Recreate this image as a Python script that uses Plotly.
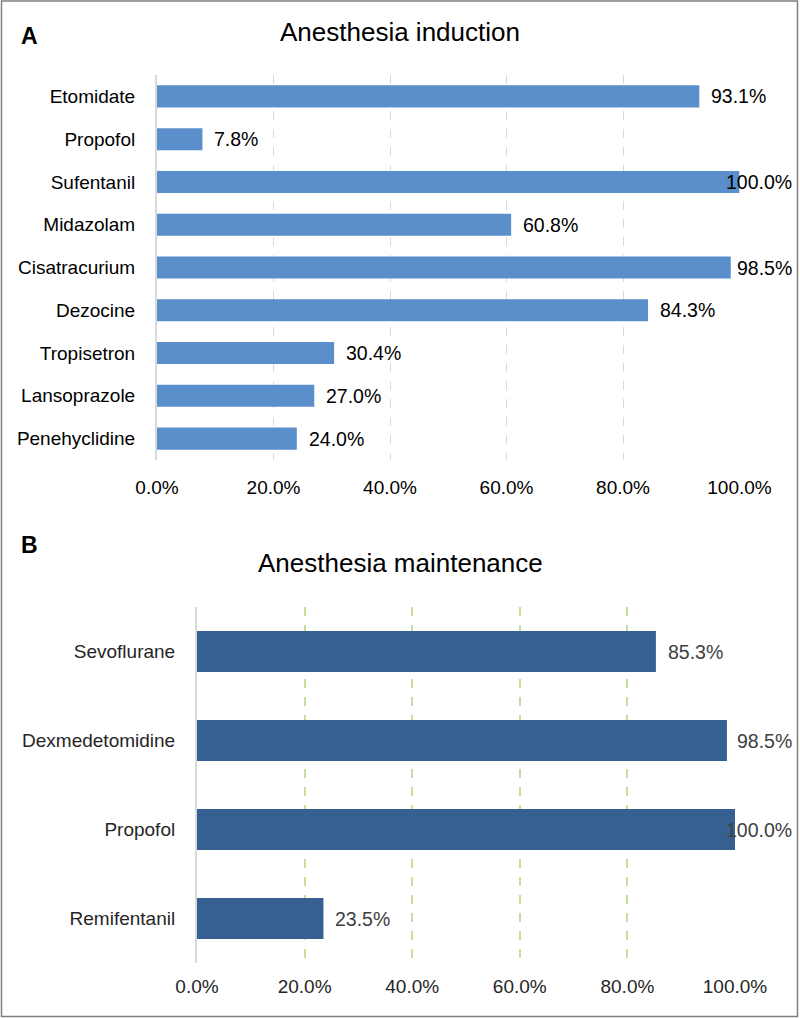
import plotly.graph_objects as go

# ---------------- data ----------------
induction_drugs = ["Etomidate", "Propofol", "Sufentanil", "Midazolam", "Cisatracurium",
                   "Dezocine", "Tropisetron", "Lansoprazole", "Penehyclidine"]
induction_pct = [93.1, 7.8, 100.0, 60.8, 98.5, 84.3, 30.4, 27.0, 24.0]

maintenance_drugs = ["Sevoflurane", "Dexmedetomidine", "Propofol", "Remifentanil"]
maintenance_pct = [85.3, 98.5, 100.0, 23.5]

x_ticks = [0, 20, 40, 60, 80, 100]
x_tick_labels = ["0.0%", "20.0%", "40.0%", "60.0%", "80.0%", "100.0%"]

panel_titles = ["Anesthesia induction", "Anesthesia maintenance"]
panel_letters = ["A", "B"]

# ---------------- layout constants ----------------
W, H = 800, 1018
FONT = "Liberation Sans, Arial, sans-serif"
A_X = (157, 739.5)
A_Y = (75, 460)
B_X = (197, 735)
B_Y = (607, 963)
COL_A = "#5B8FCB"
COL_B = "#376092"
LBL_FS = 19.5
LABEL_LIMIT = 790


def px_x(p):
    return p / W


def px_y(p):
    return 1 - p / H


CHAR_W = {"0": 556, "1": 556, "2": 556, "3": 556, "4": 556, "5": 556, "6": 556,
          "7": 556, "8": 556, "9": 556, ".": 278, "%": 889}


def label_width(s, fs):
    return sum(CHAR_W.get(c, 556) for c in s) * fs / 1000.0


fig = go.Figure()

fig.add_trace(go.Bar(
    x=induction_pct, y=induction_drugs, orientation="h",
    xaxis="x", yaxis="y", width=0.515,
    marker=dict(color=COL_A, line=dict(width=0)),
    hoverinfo="x+y", showlegend=False,
))
fig.add_trace(go.Bar(
    x=maintenance_pct, y=maintenance_drugs, orientation="h",
    xaxis="x2", yaxis="y2", width=0.46,
    marker=dict(color=COL_B, line=dict(width=0)),
    hoverinfo="x+y", showlegend=False,
))

annotations = []


def add_labels(vals, cats, xr, yr, xpix, color):
    for v, c in zip(vals, cats):
        txt = f"{v:.1f}%"
        bar_end = xpix[0] + v / 100.0 * (xpix[1] - xpix[0])
        w = label_width(txt, LBL_FS)
        shift = min(10, LABEL_LIMIT - bar_end - w)
        annotations.append(dict(
            x=v, y=c, xref=xr, yref=yr, text=txt, showarrow=False,
            xanchor="left", yanchor="middle", xshift=shift,
            font=dict(family=FONT, size=LBL_FS, color=color),
        ))


add_labels(induction_pct, induction_drugs, "x", "y", A_X, "#000000")
add_labels(maintenance_pct, maintenance_drugs, "x2", "y2", B_X, "#404040")

# titles and letters
annotations += [
    dict(x=0.5, y=px_y(32), xref="paper", yref="paper", text=panel_titles[0],
         showarrow=False, xanchor="center", yanchor="middle",
         font=dict(family=FONT, size=26, color="#000000")),
    dict(x=0.5, y=px_y(563), xref="paper", yref="paper", text=panel_titles[1],
         showarrow=False, xanchor="center", yanchor="middle",
         font=dict(family=FONT, size=26, color="#000000")),
    dict(x=px_x(19), y=px_y(36), xref="paper", yref="paper",
         text=f"<b>{panel_letters[0]}</b>", showarrow=False,
         xanchor="left", yanchor="middle",
         font=dict(family=FONT, size=23, color="#000000")),
    dict(x=px_x(19), y=px_y(545), xref="paper", yref="paper",
         text=f"<b>{panel_letters[1]}</b>", showarrow=False,
         xanchor="left", yanchor="middle",
         font=dict(family=FONT, size=23, color="#000000")),
]

fig.update_layout(
    template="none",
    width=W, height=H,
    margin=dict(l=0, r=0, t=0, b=0, pad=0, autoexpand=False),
    paper_bgcolor="white", plot_bgcolor="white",
    font=dict(family=FONT, size=19, color="#000000"),
    showlegend=False,
    annotations=annotations,
    shapes=[dict(type="rect", xref="paper", yref="paper",
                 x0=px_x(1.5), x1=px_x(797.5), y0=px_y(1016.5), y1=px_y(1),
                 line=dict(color="#7F7F7F", width=1.5), fillcolor="rgba(0,0,0,0)",
                 layer="above")],
    xaxis=dict(
        domain=[px_x(A_X[0]), px_x(A_X[1])], anchor="y", automargin=False,
        range=[0, 100], tickvals=x_ticks, ticktext=x_tick_labels,
        showgrid=True, gridcolor="#D9D9D9", griddash="dash", gridwidth=1.2,
        zeroline=False, showline=False, ticks="",
        tickfont=dict(family=FONT, size=19, color="#000000"),
        ticklabelstandoff=14, fixedrange=True,
    ),
    yaxis=dict(
        domain=[px_y(A_Y[1]), px_y(A_Y[0])], anchor="x", automargin=False,
        type="category", categoryorder="array", categoryarray=induction_drugs,
        range=[len(induction_drugs) - 0.5, -0.5],
        showgrid=False, zeroline=False,
        showline=True, linecolor="#D9D9D9", linewidth=2, ticks="",
        tickfont=dict(family=FONT, size=19, color="#000000"),
        ticklabelstandoff=16, fixedrange=True,
    ),
    xaxis2=dict(
        domain=[px_x(B_X[0]), px_x(B_X[1])], anchor="y2", automargin=False,
        range=[0, 100], tickvals=x_ticks, ticktext=x_tick_labels,
        showgrid=True, gridcolor="#C5DF9C", griddash="dash", gridwidth=1.5,
        zeroline=False, showline=False, ticks="",
        tickfont=dict(family=FONT, size=19, color="#262626"),
        ticklabelstandoff=10, fixedrange=True,
    ),
    yaxis2=dict(
        domain=[px_y(B_Y[1]), px_y(B_Y[0])], anchor="x2", automargin=False,
        type="category", categoryorder="array", categoryarray=maintenance_drugs,
        range=[len(maintenance_drugs) - 0.5, -0.5],
        showgrid=False, zeroline=False,
        showline=True, linecolor="#D9D9D9", linewidth=2, ticks="",
        tickfont=dict(family=FONT, size=19, color="#262626"),
        ticklabelstandoff=16, fixedrange=True,
    ),
)

fig.write_html(
    "out.html",
    config={"displayModeBar": False},
    post_script="document.body.style.margin='0';document.body.style.overflow='hidden';",
)
